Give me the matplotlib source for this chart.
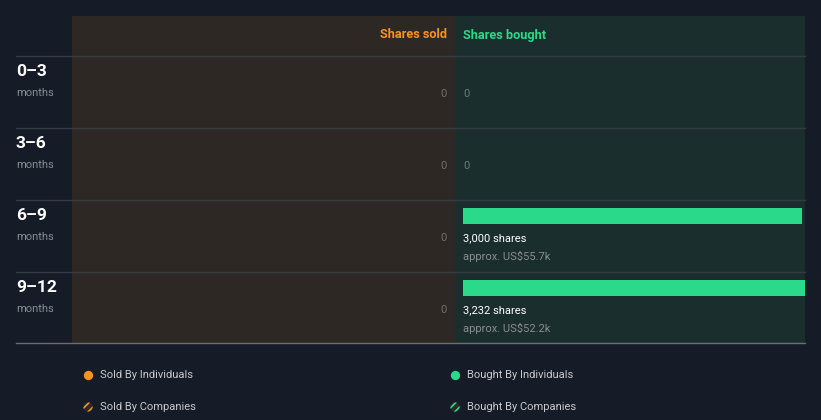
import matplotlib.pyplot as plt
from matplotlib.patches import Rectangle

# Data
periods = ['0–3', '3–6', '6–9', '9–12']
sold_shares = [0, 0, 0, 0]
bought_shares = [0, 0, 3000, 3232]
bought_value = ['', '', 'US$55.7k', 'US$52.2k']
legend_labels = ['Sold By Individuals', 'Bought By Individuals',
                 'Sold By Companies', 'Bought By Companies']

BG = '#151b27'
SOLD_BG = '#2d2823'
BOUGHT_BG = '#1a2e2e'
ORANGE = '#f7931e'
GREEN = '#2bd98a'
GRID = '#363b43'
GREY = '#8a8d93'

plt.rcParams['font.family'] = ['Roboto', 'DejaVu Sans']
plt.rcParams['hatch.linewidth'] = 1.2

fig = plt.figure(figsize=[8.21, 4.2], dpi=100, facecolor=BG)

# overlay axes in pixel coordinates
ax = fig.add_axes([0, 0, 1, 1])
ax.set_xlim(0, 821)
ax.set_ylim(420, 0)
ax.axis('off')
ax.add_patch(Rectangle((72, 16), 383, 327, color=SOLD_BG, lw=0))
ax.add_patch(Rectangle((455, 16), 350, 327, color=BOUGHT_BG, lw=0))

row_top = [56, 128, 200, 272]
for y in row_top:
    ax.plot([16, 805], [y, y], color=GRID, lw=1)
ax.plot([16, 805], [343, 343], color='#6a6e75', lw=1)

ax.text(447, 35, 'Shares sold', color=ORANGE, fontsize=9.2, fontweight='bold',
        ha='right', va='center')
ax.text(463, 35, 'Shares bought', color=GREEN, fontsize=9.2, fontweight='bold',
        ha='left', va='center')

for i, p in enumerate(periods):
    y = row_top[i]
    ax.text(16, y + 15.5, p, color='white', fontsize=12.5, fontweight='bold',
            ha='left', va='center')
    ax.text(16, y + 37, 'months', color=GREY, fontsize=8, ha='left', va='center')
    if sold_shares[i] == 0:
        ax.text(447, y + 38, '0', color='#6f6f6f', fontsize=8, ha='right', va='center')
    if bought_shares[i] == 0:
        ax.text(463, y + 38, '0', color='#6f7a7a', fontsize=8, ha='left', va='center')
    else:
        ax.text(463, y + 38, f'{bought_shares[i]:,} shares', color='white',
                fontsize=8, ha='left', va='center')
        ax.text(463, y + 56, 'approx. ' + bought_value[i], color=GREY,
                fontsize=8, ha='left', va='center')

# bars axes for bought shares
axb = fig.add_axes([463 / 821, (420 - 343) / 420, (805 - 463) / 821, (343 - 56) / 420])
axb.set_xscale('log')
axb.set_xlim(1, max(bought_shares))
axb.set_ylim(len(periods) - 0.014, 0)
axb.axis('off')
for i, v in enumerate(bought_shares):
    if v > 0:
        axb.barh(i + 16 / 72, v - 1, left=1, height=16 / 72, color=GREEN, lw=0)

# legend
leg_pos = [(88, 375), (455, 375), (88, 407), (455, 407)]
leg_col = [ORANGE, GREEN, ORANGE, GREEN]
for (x, y), lab, c, k in zip(leg_pos, legend_labels, leg_col, range(4)):
    if k < 2:
        ax.scatter([x], [y], s=45, color=c, lw=0)
    else:
        ax.scatter([x], [y], s=45, facecolor='#2a2a2a', edgecolor=c, hatch='////', lw=0)
    ax.text(x + 12, y, lab, color='#c8cacd', fontsize=8, ha='left', va='center')

plt.savefig('out.png', dpi=100, facecolor=BG)
